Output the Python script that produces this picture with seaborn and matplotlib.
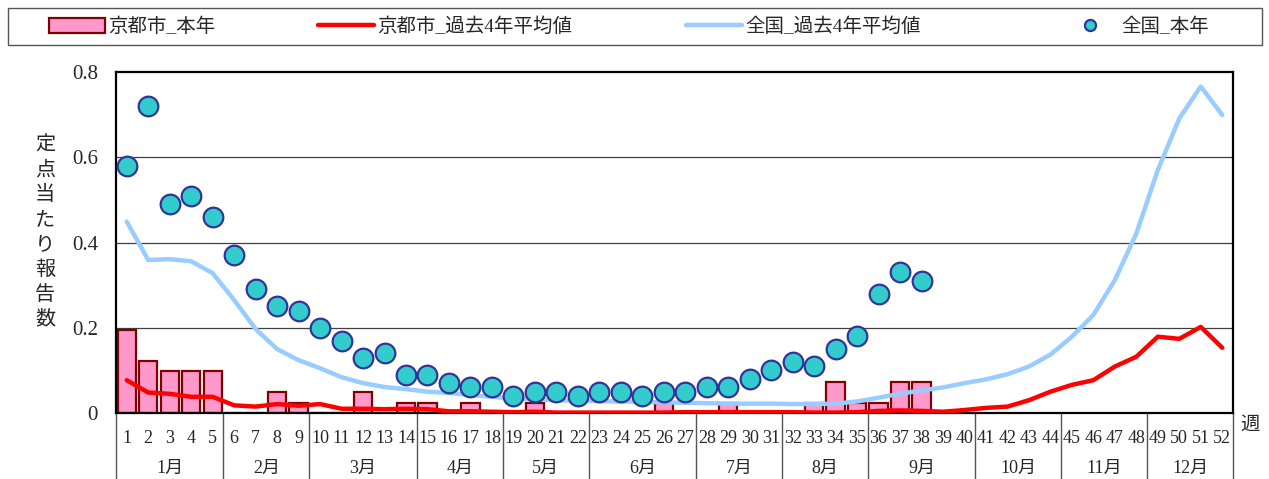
import numpy as np
import pandas as pd
import seaborn as sns
import matplotlib.pyplot as plt
from matplotlib.patches import Rectangle
from matplotlib.lines import Line2D

# week numbers
weeks = list(range(1, 53))
weeks_now = list(range(1, 39))

# 京都市_本年 (bars)
kyoto_now = [0.195, 0.122, 0.098, 0.098, 0.098, 0, 0, 0.049, 0.024, 0,
             0, 0.049, 0, 0.024, 0.024, 0, 0.024, 0, 0, 0.024,
             0, 0, 0, 0, 0, 0.024, 0, 0, 0.024, 0,
             0, 0, 0.024, 0.073, 0.024, 0.024, 0.073, 0.073]

# 京都市_過去4年平均値
kyoto_avg = [0.077, 0.048, 0.045, 0.038, 0.038, 0.018, 0.015, 0.021, 0.017, 0.021,
             0.010, 0.010, 0.009, 0.010, 0.009, 0.004, 0.004, 0.003, 0.002, 0.003,
             0.001, 0.001, 0.001, 0.001, 0.001, 0.001, 0.002, 0.002, 0.002, 0.002,
             0.002, 0.002, 0.001, 0.001, 0.002, 0.005, 0.006, 0.005, 0.003, 0.007,
             0.012, 0.015, 0.030, 0.050, 0.066, 0.077, 0.109, 0.132, 0.179, 0.174,
             0.202, 0.153]

# 全国_過去4年平均値
japan_avg = [0.449, 0.359, 0.361, 0.356, 0.328, 0.265, 0.197, 0.150, 0.124, 0.105,
             0.084, 0.070, 0.061, 0.056, 0.050, 0.047, 0.042, 0.038, 0.034, 0.032,
             0.030, 0.029, 0.028, 0.027, 0.026, 0.025, 0.024, 0.023, 0.022, 0.022,
             0.022, 0.021, 0.021, 0.022, 0.027, 0.036, 0.045, 0.053, 0.060, 0.070,
             0.079, 0.091, 0.109, 0.137, 0.179, 0.230, 0.312, 0.421, 0.570, 0.691,
             0.766, 0.699]

# 全国_本年 (dots)
japan_now = [0.58, 0.72, 0.49, 0.51, 0.46, 0.37, 0.29, 0.25, 0.24, 0.20,
             0.17, 0.13, 0.14, 0.09, 0.09, 0.07, 0.06, 0.06, 0.04, 0.05,
             0.05, 0.04, 0.05, 0.05, 0.04, 0.05, 0.05, 0.06, 0.06, 0.08,
             0.10, 0.12, 0.11, 0.15, 0.18, 0.28, 0.33, 0.31]

months = ["1月", "2月", "3月", "4月", "5月", "6月", "7月", "8月", "9月", "10月", "11月", "12月"]
month_weeks = [5, 4, 5, 4, 4, 5, 4, 4, 5, 4, 4, 4]

series_labels = ["京都市_本年", "京都市_過去4年平均値", "全国_過去4年平均値", "全国_本年"]

PINK, DARKRED = "#FF99CC", "#800000"
RED, LIGHTBLUE = "#FF0000", "#99CCFF"
TEAL, NAVY = "#33CCCC", "#333399"

sns.set_style("white")
plt.rcParams['font.family'] = ['Liberation Serif', 'Noto Sans CJK JP', 'DejaVu Sans']

W, H = 1269, 479
fig = plt.figure(figsize=(W / 100, H / 100), dpi=100)
ax = fig.add_axes([116 / W, 66 / H, 1117 / W, 341 / H])

now_df = pd.DataFrame({"week": weeks_now, "kyoto": kyoto_now, "japan": japan_now})
avg_df = pd.DataFrame({"week": weeks, "kyoto": kyoto_avg, "japan": japan_avg})

sns.barplot(data=now_df, x="week", y="kyoto", native_scale=True, width=0.85,
            color=PINK, edgecolor=DARKRED, linewidth=1.6, saturation=1,
            ax=ax, zorder=2)
sns.lineplot(data=avg_df, x="week", y="japan", color=LIGHTBLUE, linewidth=3.2,
             ax=ax, zorder=3)
sns.lineplot(data=avg_df, x="week", y="kyoto", color=RED, linewidth=3.2,
             ax=ax, zorder=4)
sns.scatterplot(data=now_df, x="week", y="japan", s=200, color=TEAL,
                edgecolor=NAVY, linewidth=1.6, ax=ax, zorder=5, clip_on=False)

ax.set_xlim(0.5, 52.5)
ax.set_ylim(0, 0.8)
ax.set_yticks([0, 0.2, 0.4, 0.6, 0.8])
ax.set_yticklabels(["0", "0.2", "0.4", "0.6", "0.8"])
ax.set_xticks(weeks)
ax.set_xticklabels([str(w) for w in weeks])
ax.tick_params(axis="y", length=0, pad=13, labelsize=15)
ax.tick_params(axis="x", length=0, pad=12, labelsize=13)
ax.set_xlabel("")
ax.set_ylabel("")
ax.grid(False)
for y in [0.2, 0.4, 0.6]:
    ax.axhline(y, color="#404040", linewidth=0.9, zorder=1)
for sp in ax.spines.values():
    sp.set_color("black")
    sp.set_linewidth(1.6)

# month separators and labels under the axis
trans = ax.get_xaxis_transform()
edge = 0.5
ax.plot([edge, edge], [0, -0.2], color="#555555", linewidth=1.0,
        transform=trans, clip_on=False)
for name, n in zip(months, month_weeks):
    ax.text(edge + n / 2, -0.162, name, transform=trans, ha="center",
            va="center", fontsize=13)
    edge += n
    ax.plot([edge, edge], [0, -0.2], color="#555555", linewidth=1.0,
            transform=trans, clip_on=False)

fig.text(1250 / W, 1 - 425 / H, "週", fontsize=14, ha="center", va="center")
fig.text(45 / W, 1 - 233 / H, "\n".join("定点当たり報告数"), fontsize=14.5,
         ha="center", va="center", linespacing=1.42)

# legend frame and entries
fig.patches.append(Rectangle((8 / W, 1 - 45 / H), 1254 / W, 37 / H,
                             transform=fig.transFigure, fill=False,
                             edgecolor="#555555", linewidth=1.0))
handles = [
    Rectangle((0, 0), 1, 1, facecolor=PINK, edgecolor=DARKRED, linewidth=1.6),
    Line2D([], [], color=RED, linewidth=3.2),
    Line2D([], [], color=LIGHTBLUE, linewidth=3.2),
    Line2D([], [], linestyle="none", marker="o", markersize=8,
           markerfacecolor=TEAL, markeredgecolor=NAVY, markeredgewidth=1.6),
]
starts = [49, 318, 686, 1062]
for h, lab, x0 in zip(handles, series_labels, starts):
    fig.legend([h], [lab], loc="center left", frameon=False, fontsize=14,
               bbox_to_anchor=(x0 / W, 1 - 27 / H), handlelength=2.9,
               handleheight=0.8, handletextpad=0.15, borderpad=0, borderaxespad=0)

fig.savefig("out.png", dpi=100, facecolor="white")
